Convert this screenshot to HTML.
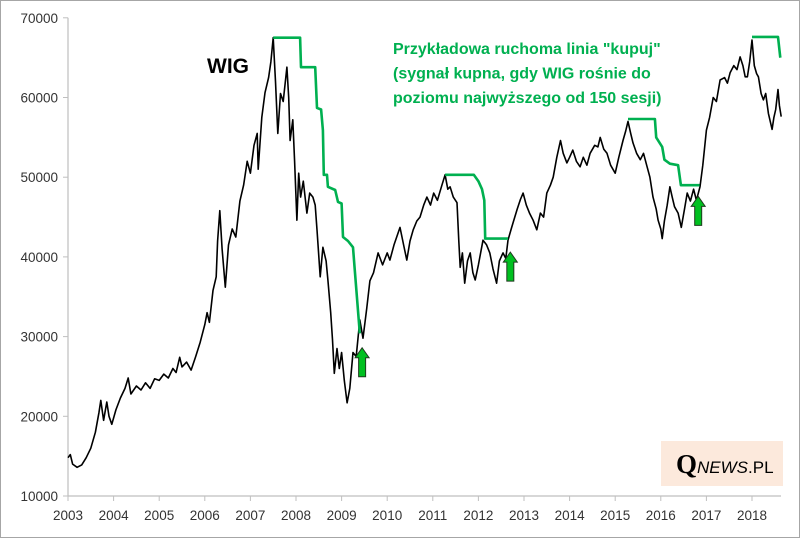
<!DOCTYPE html>
<html><head><meta charset="utf-8"><style>
html,body{margin:0;padding:0;background:#fff;}
#wrap{position:relative;width:800px;height:538px;overflow:hidden;}
svg{position:absolute;left:0;top:0;}
</style></head><body>
<div id="wrap">
<svg id="chart" width="800" height="538"></svg>
</div>
<script>
const yTicks=[10000,20000,30000,40000,50000,60000,70000];
const xTicks=[2003,2004,2005,2006,2007,2008,2009,2010,2011,2012,2013,2014,2015,2016,2017,2018];
const wigT=[2003.0,2003.05,2003.1,2003.2,2003.3,2003.4,2003.5,2003.6,2003.68,2003.72,2003.78,2003.85,2003.9,2003.96,2004.05,2004.15,2004.25,2004.32,2004.38,2004.5,2004.6,2004.7,2004.8,2004.9,2005.0,2005.1,2005.2,2005.3,2005.37,2005.45,2005.5,2005.6,2005.7,2005.8,2005.9,2006.0,2006.05,2006.1,2006.18,2006.25,2006.28,2006.33,2006.38,2006.45,2006.52,2006.6,2006.68,2006.77,2006.85,2006.93,2007.0,2007.08,2007.15,2007.17,2007.25,2007.32,2007.4,2007.45,2007.5,2007.55,2007.6,2007.66,2007.72,2007.8,2007.84,2007.87,2007.93,2007.97,2008.02,2008.06,2008.1,2008.16,2008.24,2008.3,2008.37,2008.42,2008.46,2008.53,2008.59,2008.66,2008.7,2008.76,2008.8,2008.84,2008.9,2008.95,2009.0,2009.06,2009.12,2009.18,2009.25,2009.32,2009.4,2009.47,2009.55,2009.62,2009.7,2009.8,2009.9,2010.0,2010.06,2010.15,2010.28,2010.36,2010.43,2010.5,2010.57,2010.65,2010.72,2010.8,2010.87,2010.95,2011.02,2011.1,2011.2,2011.27,2011.33,2011.38,2011.45,2011.53,2011.57,2011.6,2011.65,2011.7,2011.76,2011.82,2011.88,2011.93,2012.0,2012.1,2012.18,2012.25,2012.32,2012.4,2012.46,2012.54,2012.6,2012.65,2012.72,2012.76,2012.85,2012.92,2012.98,2013.05,2013.12,2013.2,2013.28,2013.36,2013.43,2013.5,2013.58,2013.64,2013.72,2013.8,2013.86,2013.94,2014.0,2014.07,2014.15,2014.23,2014.3,2014.38,2014.45,2014.55,2014.62,2014.67,2014.75,2014.82,2014.9,2015.0,2015.08,2015.17,2015.23,2015.28,2015.34,2015.39,2015.47,2015.55,2015.62,2015.7,2015.76,2015.83,2015.9,2015.94,2016.0,2016.03,2016.08,2016.14,2016.2,2016.25,2016.3,2016.38,2016.45,2016.52,2016.58,2016.65,2016.72,2016.78,2016.86,2016.92,2017.0,2017.07,2017.15,2017.22,2017.3,2017.4,2017.46,2017.52,2017.6,2017.67,2017.74,2017.8,2017.85,2017.9,2017.95,2018.0,2018.05,2018.1,2018.14,2018.2,2018.25,2018.3,2018.36,2018.44,2018.48,2018.52,2018.57,2018.6,2018.64];
const wigV=[14800,15200,14000,13600,13900,14800,16000,18000,20500,22000,19500,21800,20000,19000,20800,22300,23500,24800,22800,23800,23300,24200,23500,24700,24500,25300,24800,26000,25500,27400,26200,26800,25800,27500,29300,31500,33000,31800,35800,37500,42000,45800,41000,36200,41500,43500,42500,47000,49000,52000,50500,54000,55500,51000,57500,60600,62500,64500,67500,62000,55500,60500,59500,63800,60000,54600,57200,52000,44600,50500,47500,49500,45500,48000,47500,46500,43400,37500,41200,39500,37100,33000,29600,25400,28500,26000,28000,24500,21700,23500,28000,27500,32100,29800,33500,37000,38000,40500,39000,40500,39600,41500,43700,41500,39600,42000,43400,44500,45000,46500,47500,46500,48000,47100,49000,50300,48500,48800,47500,46800,42000,38700,40500,36700,39500,40500,38000,37100,39000,42100,41500,40500,38500,36700,39500,40500,39800,42100,43500,44300,46000,47200,48000,46500,45500,44600,43400,45500,45000,48000,49000,50000,52500,54600,53000,51800,52500,53400,52000,51300,52500,51500,53000,54000,53800,55000,53500,53000,51500,50500,52500,54600,55800,57000,55500,54300,53000,52200,53000,51300,50000,47500,46000,44600,43500,42300,44500,46500,48800,47500,46300,45500,43700,46000,48000,47000,48500,47100,48800,51500,55900,57500,60000,59500,62200,62500,61800,63100,64000,63500,65100,64000,62600,62600,64500,67200,64000,63000,62600,60500,59700,60500,58000,56000,57500,58500,61000,59000,57600];
const buyLine1T=[2007.5,2008.09,2008.11,2008.42,2008.46,2008.55,2008.59,2008.61,2008.68,2008.7,2008.86,2008.92,2009.0,2009.03,2009.14,2009.25,2009.29,2009.4];
const buyLine1V=[67500,67500,63800,63800,58700,58500,55900,50300,50300,48800,48400,46900,46700,42500,42000,41200,38300,30400];
const buyLine2T=[2011.27,2011.9,2012.0,2012.08,2012.13,2012.15,2012.65];
const buyLine2V=[50300,50300,49500,48500,47100,42300,42300];
const buyLine3T=[2015.28,2015.87,2015.9,2016.03,2016.08,2016.2,2016.38,2016.44,2016.85];
const buyLine3V=[57300,57300,55000,53800,52200,51700,51500,49000,49000];
const buyLine4T=[2018.0,2018.57,2018.62];
const buyLine4V=[67600,67600,65000];
const arrowT=[2009.45,2012.7,2016.82];
const arrowV=[28600,40600,47600];

const NS="http://www.w3.org/2000/svg";
const svg=document.getElementById('chart');
const X=t=>68+(t-2003)*45.6;
const Y=v=>496-(v-10000)*0.00797;
function mk(tag,attrs,parent){const e=document.createElementNS(NS,tag);for(const k in attrs)e.setAttribute(k,attrs[k]);(parent||svg).appendChild(e);return e;}

const border=mk('rect',{x:0.5,y:0.5,width:799,height:537,fill:'#fff',stroke:'#a6a6a6','stroke-width':1});



const axes=mk('g',{});


mk('line',{x1:68,y1:Y(70000),x2:68,y2:496,stroke:'#bfbfbf','stroke-width':1.2},axes);
mk('line',{x1:68,y1:496,x2:781,y2:496,stroke:'#bfbfbf','stroke-width':1.2},axes);
yTicks.forEach(v=>{
  mk('line',{x1:63,y1:Y(v),x2:68,y2:Y(v),stroke:'#bfbfbf'},axes);
  const t=mk('text',{x:58,y:Y(v)+5,'text-anchor':'end','font-family':'Liberation Sans, sans-serif','font-size':13.5,fill:'#333'},axes);
  t.textContent=v;
  
  
});
xTicks.forEach(yr=>{
  mk('line',{x1:X(yr),y1:496,x2:X(yr),y2:501,stroke:'#bfbfbf'},axes);
  const t=mk('text',{x:X(yr),y:520,'text-anchor':'middle','font-family':'Liberation Sans, sans-serif','font-size':13.5,fill:'#333'},axes);
  t.textContent=yr;
  
  
});

function pts(T,V){return T.map((t,i)=>X(t).toFixed(1)+','+Y(V[i]).toFixed(1)).join(' ');}
const wig=mk('polyline',{points:pts(wigT,wigV),fill:'none',stroke:'#000','stroke-width':1.6,'stroke-linejoin':'round'});



[[buyLine1T,buyLine1V],[buyLine2T,buyLine2V],[buyLine3T,buyLine3V],[buyLine4T,buyLine4V]].forEach(([T,V])=>{
  const g=mk('polyline',{points:pts(T,V),fill:'none',stroke:'#00b050','stroke-width':2.6,'stroke-linejoin':'round'});
  
  
});

arrowT.forEach((t,i)=>{
  const cx=X(t), ty=Y(arrowV[i]);
  const d=`M${cx},${ty} L${cx+7},${ty+10} L${cx+3.5},${ty+10} L${cx+3.5},${ty+29} L${cx-3.5},${ty+29} L${cx-3.5},${ty+10} L${cx-7},${ty+10} Z`;
  const a=mk('path',{d:d,fill:'#00c020',stroke:'#1f3a1f','stroke-width':1});
  
  
});

const wl=mk('text',{x:207,y:73,'font-family':'Liberation Sans, sans-serif','font-size':21,'font-weight':'bold',fill:'#000'});
wl.textContent='WIG';



const ann=mk('text',{'font-family':'Liberation Sans, sans-serif','font-size':16,'font-weight':'bold',fill:'#00b050'});


['Przykładowa ruchoma linia  "kupuj"','(sygnał kupna, gdy WIG rośnie do','poziomu najwyższego od 150 sesji)'].forEach((s,i)=>{
  const ts=mk('tspan',{x:393,y:54+i*24.5},ann);ts.textContent=s;
});

const logo=mk('g',{});


mk('rect',{x:661,y:441,width:122,height:45,fill:'#fce9dc'},logo);
const lt=mk('text',{x:676,y:473,'font-family':'Liberation Serif, serif',fill:'#000'},logo);
const q=mk('tspan',{'font-size':27,'font-weight':'bold'},lt);q.textContent='Q';
const n=mk('tspan',{'font-size':17,'font-style':'italic','font-family':'Liberation Sans, sans-serif'},lt);n.textContent='NEWS';
const p=mk('tspan',{'font-size':17,'font-family':'Liberation Sans, sans-serif'},lt);p.textContent='.PL';
</script>
</body></html>
